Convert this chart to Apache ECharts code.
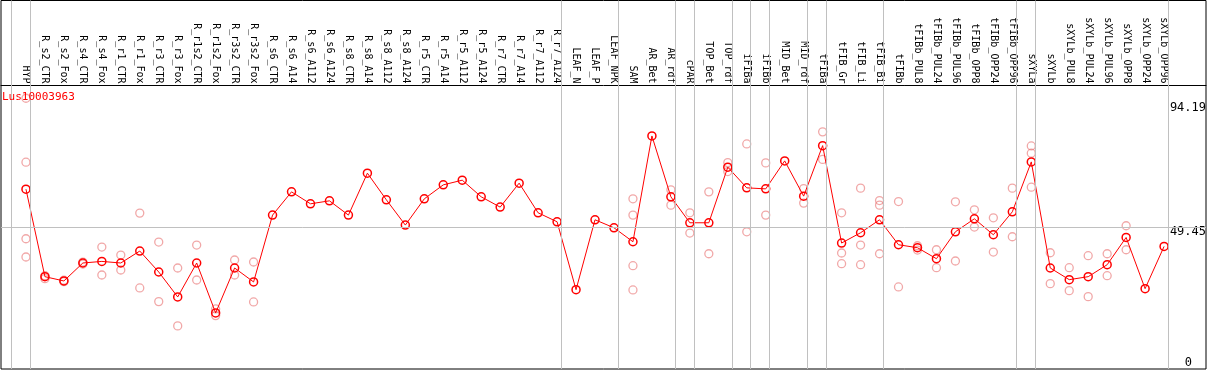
<!DOCTYPE html>
<html>
<head>
<meta charset="utf-8">
<script src="https://cdn.jsdelivr.net/npm/echarts@6/dist/echarts.min.js"></script>
<style>
html,body{margin:0;padding:0;background:#fff;}
#c{width:1209px;height:370px;}
</style>
</head>
<body>
<div id="c"></div>
<script>
const categories = ["HYP","R_s2_CTR","R_s2_Fox","R_s4_CTR","R_s4_Fox","R_r1_CTR","R_r1_Fox","R_r3_CTR","R_r3_Fox","R_r1s2_CTR","R_r1s2_Fox","R_r3s2_CTR","R_r3s2_Fox","R_s6_CTR","R_s6_A14","R_s6_A112","R_s6_A124","R_s8_CTR","R_s8_A14","R_s8_A112","R_s8_A124","R_r5_CTR","R_r5_A14","R_r5_A112","R_r5_A124","R_r7_CTR","R_r7_A14","R_r7_A112","R_r7_A124","LEAF_N","LEAF_P","LEAF_NPK","SAM","AR_Bet","AR_rdf","cPAR","TOP_Bet","TOP_rdf","iFIBa","iFIBb","MID_Bet","MID_rdf","tFIBa","tFIB_Gr","tFIB_Li","tFIB_Bi","tFIBb","tFIBb_PUL8","tFIBb_PUL24","tFIBb_PUL96","tFIBb_OPP8","tFIBb_OPP24","tFIBb_OPP96","sXYLa","sXYLb","sXYLb_PUL8","sXYLb_PUL24","sXYLb_PUL96","sXYLb_OPP8","sXYLb_OPP24","sXYLb_OPP96"];

const meanValues = [62.57,32.12,30.63,36.88,37.43,36.88,41.04,33.75,25.07,36.88,19.51,35.14,30.28,53.54,61.63,57.47,58.51,53.54,68.13,58.85,50.07,59.2,64.06,65.69,59.9,56.32,64.65,54.34,51.22,27.6,51.91,49.13,44.27,81.08,59.9,50.87,50.87,70.21,63.02,62.67,72.4,60.14,77.71,43.82,47.4,51.91,43.23,42.19,38.37,47.74,52.26,46.7,54.69,72.05,35.14,31.08,32.12,36.28,45.76,27.95,42.64];

const replicates = [
  [94.19,71.94,45.31,38.96],[31.42,32.47],[30.38,30.9],[36.5,37.2],[42.43,32.71],[39.65,34.44],[54.24,28.19],[44.17,23.44],[35.14,15.0],[43.13,30.97],[20.9,18.58],[37.92,32.71],[37.22,23.33],
  [],[],[],[],[],[],[],[],[],[],[],[],[],[],[],[],[],[],[],
  [59.2,53.54,35.94,27.5],[],[62.33,57.01],[54.34,47.29],[61.63,40.1],[71.81,68.68],[78.3,47.74],[71.7,53.54],[],[62.78,57.71],[82.5,72.9],
  [54.34,40.35,36.63],[62.92,43.13,36.28],[58.61,57.01,40.1],[58.26,28.54],[41.39,42.88],[41.49,35.24],[58.16,37.57],[55.38,49.38],[52.6,40.69],[62.92,46.01],
  [77.6,75.07,63.26],[40.45,29.69],[35.24,27.26],[39.41,25.17],[40.1,32.47],[49.83,41.49],[],[]
];

const yTickValues = [0, 49.45, 94.19];
const gridLineValue = 49.45;
const separatorsAfter = [-1,0,28,31,34,35,37,38,39,41,42,45,52,53,60];
const titleText = "Lus10003963";

const mainData = meanValues.map((v, i) => [i, v]);
const repData = [];
replicates.forEach((arr, i) => arr.forEach(v => repData.push([i, v])));

const xMin = -25/19, xMax = -25/19 + 1207/19;

const chart = echarts.init(document.getElementById('c'), null, {renderer: 'canvas'});
chart.setOption({
  animation: false,
  backgroundColor: '#fff',
  title: {
    text: titleText, left: 2, top: 92, padding: 0,
    textStyle: {color: '#ff0000', fontSize: 11, fontWeight: 'normal', fontFamily: 'DejaVu Sans Mono'}
  },
  grid: {left: 1, right: 1, top: 0.5, bottom: 1, show: true, borderColor: '#000', borderWidth: 1, backgroundColor: 'transparent'},
  xAxis: {
    type: 'value', min: xMin, max: xMax, position: 'top', offset: -85,
    axisLine: {show: true, onZero: false, lineStyle: {color: '#000', width: 1}},
    axisTick: {show: false},
    splitLine: {show: false},
    axisLabel: {
      customValues: categories.map((_, i) => i),
      formatter: v => categories[Math.round(v)] || '',
      rotate: 90, margin: 2, fontSize: 10, fontFamily: 'DejaVu Sans Mono', color: '#000'
    }
  },
  yAxis: {
    type: 'value', min: 0, max: 128.2, position: 'right',
    axisLine: {show: false}, axisTick: {show: false}, splitLine: {show: false},
    axisLabel: {
      inside: true, margin: 0, customValues: yTickValues,
      verticalAlign: 'middle', align: 'right',
      fontSize: 12, fontFamily: 'DejaVu Sans Mono', color: '#000',
      formatter: v => {
        if (v === 0) return '{z|0}';
        if (v > 90) return '{a|' + v.toFixed(2) + '}';
        return '{b|' + v.toFixed(2) + '}';
      },
      rich: {
        z: {fontSize: 12, fontFamily: 'DejaVu Sans Mono', color: '#000', padding: [0, 14, 12, 0]},
        a: {fontSize: 12, fontFamily: 'DejaVu Sans Mono', color: '#000', padding: [20, 0, 0, 0]},
        b: {fontSize: 12, fontFamily: 'DejaVu Sans Mono', color: '#000', padding: [10, 0, 0, 0]}
      }
    }
  },
  series: [
    {
      type: 'scatter', data: repData, z: 2,
      symbol: 'circle', symbolSize: 8,
      itemStyle: {color: 'rgba(0,0,0,0)', borderColor: 'rgba(232,110,110,0.75)', borderWidth: 1.3},
      silent: true,
      markLine: {
        silent: true, symbol: ['none', 'none'], label: {show: false},
        lineStyle: {color: '#c0c0c0', type: 'solid', width: 1},
        data: separatorsAfter.map(s => ({xAxis: s + 0.21})).concat([{yAxis: gridLineValue}])
      }
    },
    {
      type: 'line', data: mainData, z: 3,
      symbol: 'circle', symbolSize: 8, showSymbol: true,
      lineStyle: {color: '#ff0000', width: 1},
      itemStyle: {color: 'rgba(0,0,0,0)', borderColor: '#ff0000', borderWidth: 1.5},
      silent: true
    }
  ]
});
</script>
</body>
</html>
